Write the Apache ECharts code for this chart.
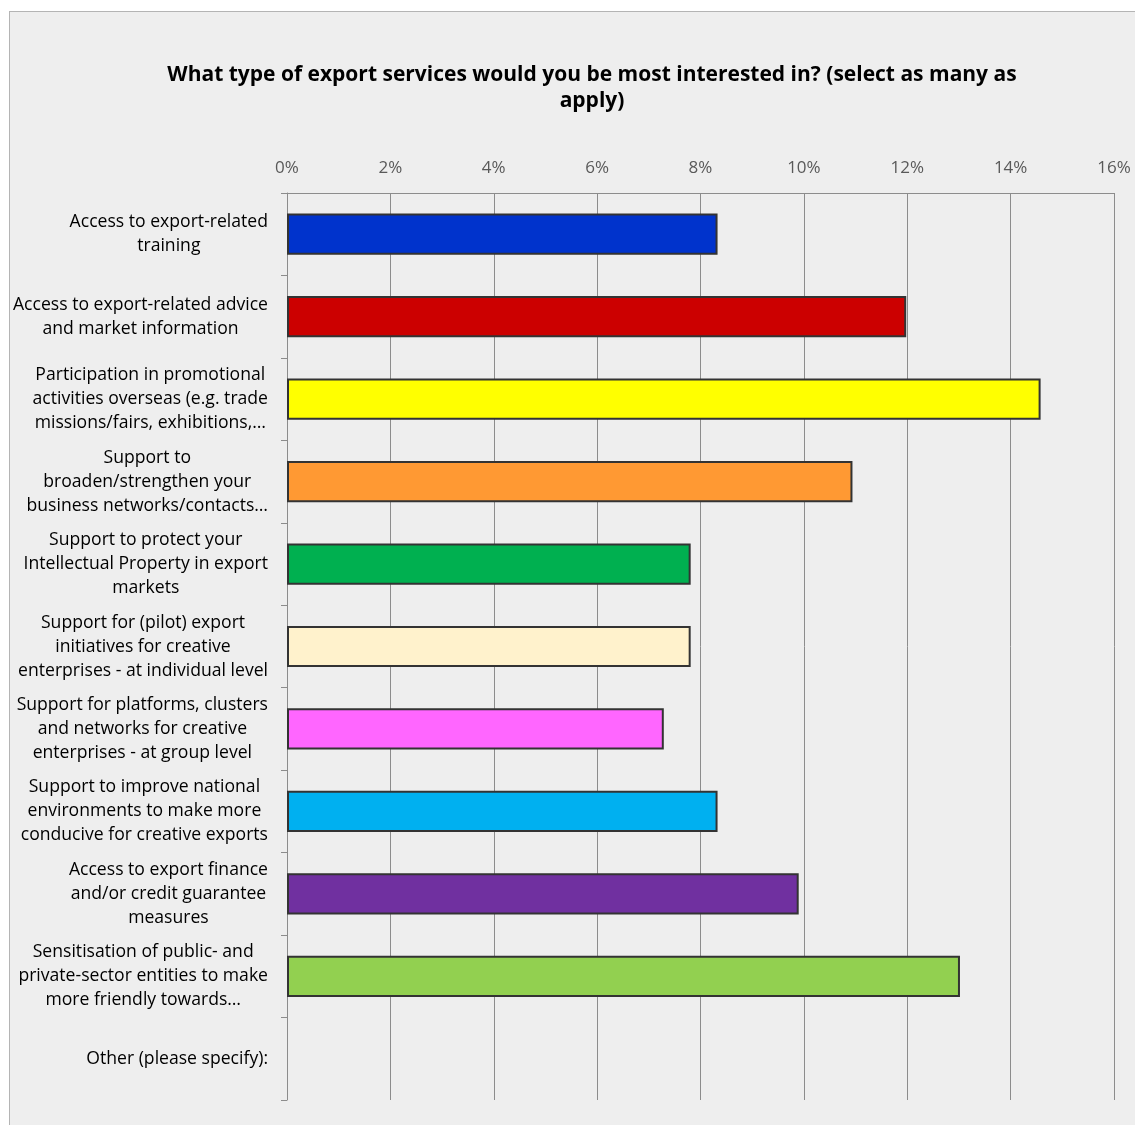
<!DOCTYPE html>
<html>
<head>
<meta charset="utf-8">
<script src="https://cdn.jsdelivr.net/npm/echarts@6/dist/echarts.min.js"></script>
<style>
  html, body { margin: 0; padding: 0; background: #ffffff; }
  #frame { position: absolute; left: 9px; top: 11px; width: 1126px; height: 1114px;
           background: #eeeeee; border-left: 1px solid #b4b4b4; border-top: 1px solid #b4b4b4; box-sizing: border-box; }
  #chart { position: absolute; left: 0; top: 0; width: 1135px; height: 1125px; }
</style>
</head>
<body>
<div id="frame"></div>
<div id="chart"></div>
<script>
const titleText = 'What type of export services would you be most interested in? (select as many as\napply)';
const categories = [
  'Access to export-related\ntraining',
  'Access to export-related advice\nand market information',
  'Participation in promotional\nactivities overseas (e.g. trade\nmissions/fairs, exhibitions,…',
  'Support to\nbroaden/strengthen your\nbusiness networks/contacts…',
  'Support to protect your\nIntellectual Property in export\nmarkets',
  'Support for (pilot) export\ninitiatives for creative\nenterprises - at individual level',
  'Support for platforms, clusters\nand networks for creative\nenterprises - at group level',
  'Support to improve national\nenvironments to make more\nconducive for creative exports',
  'Access to export finance\nand/or credit guarantee\nmeasures',
  'Sensitisation of public- and\nprivate-sector entities to make\nmore friendly towards…',
  'Other (please specify):'
];
const values = [8.33, 11.98, 14.58, 10.94, 7.81, 7.81, 7.29, 8.33, 9.90, 13.02, 0];
const barColors = ['#0033CC', '#CC0000', '#FFFF00', '#FF9933', '#00B050', '#FFF2CC', '#FF66FF', '#00B0F0', '#7030A0', '#92D050', '#BFBFBF'];
const axisMin = 0, axisMax = 16, axisStep = 2;

const FONT = '"Open Sans", "Noto Sans", sans-serif';
const chart = echarts.init(document.getElementById('chart'), null, { renderer: 'canvas' });
chart.setOption({
  backgroundColor: 'transparent',
  animation: false,
  title: {
    text: titleText,
    left: 587,
    top: 57,
    textAlign: 'center',
    textStyle: { fontFamily: FONT, fontSize: 21, fontWeight: 'bold', color: '#000', lineHeight: 26, align: 'center' }
  },
  grid: { left: 287, right: 21, top: 193, bottom: 25, containLabel: false, outerBoundsMode: 'none' },
  xAxis: {
    type: 'value',
    position: 'top',
    min: axisMin, max: axisMax, interval: axisStep,
    axisLine: { show: true, lineStyle: { color: '#8c8c8c', width: 1 } },
    axisTick: { show: false },
    axisLabel: { formatter: '{value}%', color: '#595959', fontFamily: FONT, fontSize: 17, margin: 16 },
    splitLine: { show: true, lineStyle: { color: '#8c8c8c', width: 1 } }
  },
  yAxis: {
    type: 'category',
    inverse: true,
    data: categories,
    axisLine: { show: true, lineStyle: { color: '#8c8c8c', width: 1 } },
    axisTick: { show: true, length: 6, alignWithLabel: false, lineStyle: { color: '#8c8c8c' } },
    axisLabel: {
      margin: 19,
      align: 'right',
      formatter: v => v.split('\n').map(l => '{c|' + l + '}').join('\n'),
      rich: { c: { align: 'center', fontFamily: FONT, fontSize: 17.6, lineHeight: 24, color: '#000' } }
    }
  },
  series: [{
    type: 'bar',
    barWidth: '50%',
    data: values.map((v, i) => ({
      value: v,
      itemStyle: { color: barColors[i], borderWidth: v === 0 ? 0 : 2 }
    })),
    itemStyle: { borderColor: '#333333', borderWidth: 2 }
  }]
});
</script>
</body>
</html>
